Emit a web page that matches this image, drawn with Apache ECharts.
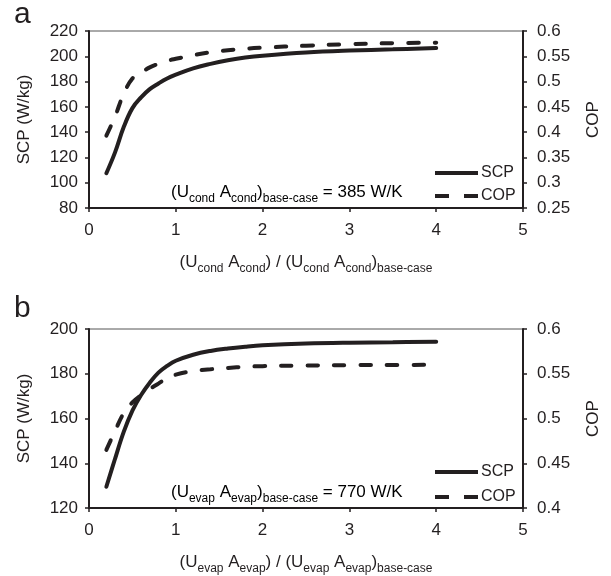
<!DOCTYPE html>
<html>
<head>
<meta charset="utf-8">
<script src="https://cdn.jsdelivr.net/npm/echarts@6/dist/echarts.min.js"></script>
<style>
  html, body { margin: 0; padding: 0; background: #fff; }
  #chart { width: 611px; height: 576px; }
</style>
</head>
<body>
<div id="chart"></div>
<script>
// panel a: condenser UA ratio
var xA = [0.2, 0.3, 0.4, 0.5, 0.6, 0.7, 0.8, 0.9, 1.0, 1.2, 1.4, 1.6, 1.8, 2.0, 2.5, 3.0, 3.5, 4.0];
var scpA = [107.5, 124, 144, 159, 167.5, 174, 178.5, 182.5, 185.5, 190.5, 194, 196.8, 199, 200.5, 203, 204.5, 205.5, 206.5];
var copA = [0.393, 0.431, 0.476, 0.506, 0.518, 0.528, 0.535, 0.541, 0.545, 0.552, 0.558, 0.562, 0.565, 0.567, 0.571, 0.574, 0.576, 0.577];

// panel b: evaporator UA ratio
var xB = [0.2, 0.3, 0.4, 0.5, 0.6, 0.7, 0.8, 0.9, 1.0, 1.2, 1.4, 1.6, 1.8, 2.0, 2.5, 3.0, 3.5, 4.0];
var scpB = [129.5, 142, 154, 163.5, 170.5, 176, 180.5, 183.5, 185.8, 188.5, 190.2, 191.3, 192.1, 192.7, 193.5, 193.9, 194.1, 194.3];
var copB = [0.465, 0.486, 0.506, 0.518, 0.526, 0.533, 0.539, 0.545, 0.549, 0.553, 0.555, 0.5565, 0.5578, 0.5585, 0.5592, 0.5596, 0.5598, 0.56];

var xTicks = { min: 0, max: 5, interval: 1 };
var scpRangeA = { min: 80, max: 220, interval: 20 };
var copRangeA = { min: 0.25, max: 0.6, interval: 0.05 };
var scpRangeB = { min: 120, max: 200, interval: 20 };
var copRangeB = { min: 0.4, max: 0.6, interval: 0.05 };

var ink = '#231f20';
var font = 'Liberation Sans, Arial, sans-serif';
var dash = [10.5, 16];

var rich = {
  n: { fontSize: 17, fontFamily: font, color: ink, verticalAlign: 'bottom', padding: [0, 0, 4, 0] },
  s: { fontSize: 12, fontFamily: font, color: ink, verticalAlign: 'bottom' }
};

function pairs(xs, ys) {
  return xs.map(function (x, i) { return [x, ys[i]]; });
}

function xAxisFor(grid, sub) {
  return {
    type: 'value', gridIndex: grid,
    min: xTicks.min, max: xTicks.max, interval: xTicks.interval,
    name: '{n|(U}{s|' + sub + '}{n| A}{s|' + sub + '}{n|) / (U}{s|' + sub + '}{n| A}{s|' + sub + '}{n|)}{s|base-case}',
    nameLocation: 'middle', nameGap: 46,
    nameTextStyle: { rich: rich },
    axisLine: { show: true, lineStyle: { color: ink, width: 2 } },
    axisTick: { show: true, inside: false, length: 4, lineStyle: { color: ink, width: 1.5 } },
    axisLabel: { margin: 14, fontSize: 17, fontFamily: font, color: ink },
    splitLine: { show: false }
  };
}

function yAxisFor(grid, range, pos, name, gap, fmt, margin) {
  return {
    type: 'value', gridIndex: grid, position: pos,
    min: range.min, max: range.max, interval: range.interval,
    name: name, nameLocation: 'middle', nameRotate: 90, nameGap: gap,
    nameTextStyle: { fontSize: 17, fontFamily: font, color: ink },
    axisLine: { show: true, onZero: false, lineStyle: { color: ink, width: 2 } },
    axisTick: { show: true, inside: false, length: 4, lineStyle: { color: ink, width: 1.5 } },
    axisLabel: { margin: margin, fontSize: 17, fontFamily: font, color: ink, formatter: fmt },
    splitLine: { show: false }
  };
}

var fmtInt = function (v) { return String(v); };
var fmtDec = function (v) { return String(+v.toFixed(2)); };

function lineSeries(name, xi, yi, data, dashed) {
  return {
    name: name, type: 'line', xAxisIndex: xi, yAxisIndex: yi,
    data: data, symbol: 'none', smooth: 0.4,
    animation: false,
    itemStyle: { color: ink },
    lineStyle: { color: ink, width: 4, cap: 'round', type: dashed ? dash : 'solid' }
  };
}

function legendAt(top, gap) {
  return {
    orient: 'vertical', left: 433, top: top, padding: 0,
    itemWidth: 43, itemHeight: 14, itemGap: gap,
    data: [
      { name: 'SCP', lineStyle: { width: 4, type: 'solid', cap: 'butt' } },
      { name: 'COP', lineStyle: { width: 4, type: [14, 15], cap: 'butt' } }
    ],
    selectedMode: false,
    itemStyle: { opacity: 0 },
    textStyle: { fontSize: 16, lineHeight: 14, fontFamily: font, color: ink, padding: [0, 0, 0, -2] }
  };
}

var chart = echarts.init(document.getElementById('chart'), null, { renderer: 'canvas' });

var option = {
  backgroundColor: '#fff',
  animation: false,
  grid: [
    { left: 89, right: 88, top: 31, height: 177, show: true, borderColor: '#555', borderWidth: 1 },
    { left: 89, right: 88, top: 329, height: 179, show: true, borderColor: '#555', borderWidth: 1 }
  ],
  xAxis: [xAxisFor(0, 'cond'), xAxisFor(1, 'evap')],
  yAxis: [
    yAxisFor(0, scpRangeA, 'left', 'SCP (W/kg)', 56, fmtInt, 11),
    yAxisFor(0, copRangeA, 'right', 'COP', 62, fmtDec, 14),
    yAxisFor(1, scpRangeB, 'left', 'SCP (W/kg)', 56, fmtInt, 11),
    yAxisFor(1, copRangeB, 'right', 'COP', 62, fmtDec, 14)
  ],
  legend: [legendAt(165, 7), legendAt(464, 9)],
  series: [
    lineSeries('SCP', 0, 0, pairs(xA, scpA), false),
    lineSeries('COP', 0, 1, pairs(xA, copA), true),
    lineSeries('SCP', 1, 2, pairs(xB, scpB), false),
    lineSeries('COP', 1, 3, pairs(xB, copB), true)
  ],
  graphic: [
    { type: 'text', left: 14, top: 0, style: { text: 'a', fontSize: 30, fontFamily: font, fill: ink } },
    { type: 'text', left: 14, top: 294, style: { text: 'b', fontSize: 30, fontFamily: font, fill: ink } },
    {
      type: 'text', left: 171, top: 184,
      style: {
        text: '{n|(U}{s|cond}{n| A}{s|cond}{n|)}{s|base-case}{n| = 385 W/K}',
        rich: rich
      }
    },
    {
      type: 'text', left: 171, top: 484,
      style: {
        text: '{n|(U}{s|evap}{n| A}{s|evap}{n|)}{s|base-case}{n| = 770 W/K}',
        rich: rich
      }
    }
  ]
};

chart.setOption(option);
</script>
</body>
</html>
